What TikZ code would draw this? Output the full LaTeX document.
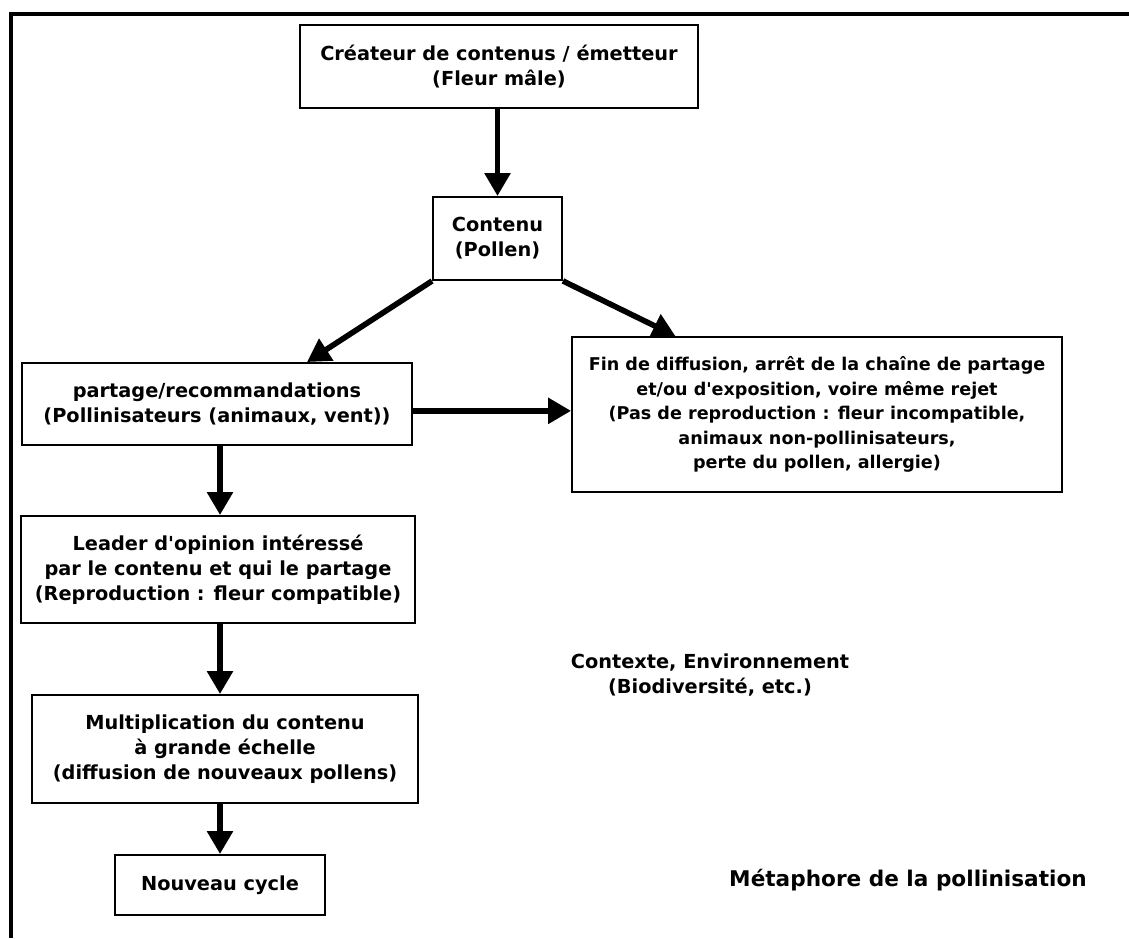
\documentclass[tikz,border=0pt]{standalone}
\usepackage{fontspec}
\setmainfont{DejaVu Sans}[Ligatures=TeXOff]
\usetikzlibrary{arrows.meta}

\begin{document}
\begin{tikzpicture}[x=0.02cm,y=-0.02cm,
	boite/.style={draw, line width=1.1pt, align=center, inner sep=0pt, font=\bfseries\fontsize{11}{14.2}\selectfont},
	texte/.style={align=center, inner sep=0pt, font=\bfseries\fontsize{11}{14.2}\selectfont},
	fleche/.style={line width=3.2pt, -{Triangle[width=0.5cm,length=0.46cm]}},
	cadre/.style={line width=2.8pt}]
	\useasboundingbox (0,0) rectangle (1129,938);
	\draw[cadre] (11,938) -- (11,14) -- (1129,14);
	
	\node[boite, minimum width=7.96cm, minimum height=1.66cm] (c) at (499,66.5) {Créateur de contenus / émetteur\\(Fleur mâle)};
	\node[boite, minimum width=2.58cm, minimum height=1.66cm] (p) at (497.5,238.5) {Contenu\\(Pollen)};
	\node[boite, minimum width=7.8cm, minimum height=1.64cm] (r) at (217,404) {partage/recommandations\\(Pollinisateurs (animaux, vent))};
	\node[boite, minimum width=9.8cm, minimum height=3.1cm, font=\bfseries\fontsize{10}{13.9}\selectfont] (f) at (817,414.5) {Fin de diffusion, arrêt de la chaîne de partage\\et/ou d'exposition, voire même rejet\\(Pas de reproduction : fleur incompatible,\\animaux non-pollinisateurs,\\perte du pollen, allergie)};
	\node[boite, minimum width=7.88cm, minimum height=2.14cm] (l) at (218,569.5) {Leader d'opinion intéressé\\par le contenu et qui le partage\\(Reproduction : fleur compatible)};
	\node[boite, minimum width=7.72cm, minimum height=2.16cm] (m) at (225,749) {Multiplication du contenu\\à grande échelle\\(diffusion de nouveaux pollens)};
	\node[boite, minimum width=4.2cm, minimum height=1.2cm] (n) at (220,885) {Nouveau cycle};
	\node[texte] (e) at (710,675) {Contexte, Environnement\\(Biodiversité, etc.)};
	\node[texte, font=\bfseries\fontsize{12.3}{15}\selectfont] (t) at (908,880) {Métaphore de la pollinisation};
	
	% flux principal
	\draw[fleche] (c.south -| p.north) -- (p.north);
	\draw[fleche] (p.south west) -- (r.25);
	\draw[fleche] (p.south east) -- (f.151);
	\draw[fleche] (r.-2) -- (r.-2 -| f.west);
	% vers le nouveau cycle
	\draw[fleche] (r.south -| n.north) -- (l.north -| n.north);
	\draw[fleche] (l.south -| n.north) -- (m.north -| n.north);
	\draw[fleche] (m.south -| n.north) -- (n.north);
\end{tikzpicture}
\end{document}
